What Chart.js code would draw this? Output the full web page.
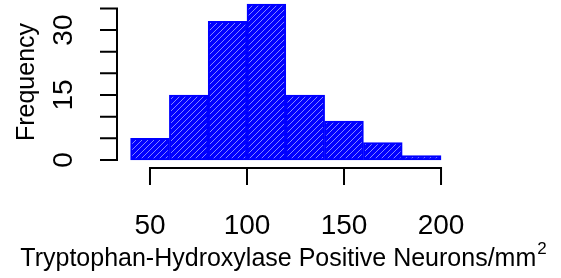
<!DOCTYPE html>
<html>
<head>
<meta charset="utf-8">
<script src="https://cdn.jsdelivr.net/npm/chart.js@4/dist/chart.umd.min.js"></script>
<style>
  body { margin: 0; background: #fff; }
  canvas { display: block; }
</style>
</head>
<body>
<canvas id="hist" width="561" height="278"></canvas>
<script>
// histogram bins (20 wide) and counts
const binStarts = [40, 60, 80, 100, 120, 140, 160, 180];
const binWidth = 20;
const counts = [5, 15, 32, 36, 15, 9, 4, 1];
const xTicks = [50, 100, 150, 200];
const yTickMarks = [0, 5, 10, 15, 20, 25, 30, 35];
const yTickLabels = [0, 15, 30];

const FONT = '"Liberation Sans", Arial, sans-serif';

function hatchPattern() {
  const c = document.createElement('canvas');
  c.width = 6;
  c.height = 6;
  const g = c.getContext('2d');
  g.fillStyle = '#0000ff';
  g.fillRect(0, 0, 6, 6);
  g.strokeStyle = 'rgba(175,175,255,0.75)';
  g.lineWidth = 1;
  g.beginPath();
  g.moveTo(-1, 7);
  g.lineTo(7, -1);
  g.stroke();
  return g.createPattern(c, 'repeat');
}

// R style axes: line from first to last tick, ticks outside
const rAxes = {
  id: 'rAxes',
  afterDraw(chart) {
    const ctx = chart.ctx;
    const x = chart.scales.x;
    const y = chart.scales.y;
    const axisY = chart.chartArea.bottom;
    const axisX = chart.chartArea.left;
    ctx.save();
    ctx.strokeStyle = '#000';
    ctx.lineWidth = 2;
    ctx.lineCap = 'butt';

    // x axis
    ctx.beginPath();
    ctx.moveTo(x.getPixelForValue(xTicks[0]), axisY);
    ctx.lineTo(x.getPixelForValue(xTicks[xTicks.length - 1]), axisY);
    xTicks.forEach(v => {
      const px = x.getPixelForValue(v);
      ctx.moveTo(px, axisY - 1);
      ctx.lineTo(px, axisY + 17);
    });
    ctx.stroke();

    ctx.fillStyle = '#000';
    ctx.font = '28px ' + FONT;
    ctx.textAlign = 'center';
    ctx.textBaseline = 'alphabetic';
    xTicks.forEach(v => ctx.fillText(String(v), x.getPixelForValue(v), 234));

    // y axis
    ctx.beginPath();
    ctx.moveTo(axisX, y.getPixelForValue(yTickMarks[0]));
    ctx.lineTo(axisX, y.getPixelForValue(yTickMarks[yTickMarks.length - 1]));
    yTickMarks.forEach(v => {
      const py = y.getPixelForValue(v);
      ctx.moveTo(axisX + 1, py);
      ctx.lineTo(axisX - 17, py);
    });
    ctx.stroke();

    yTickLabels.forEach(v => {
      ctx.save();
      ctx.translate(72, y.getPixelForValue(v));
      ctx.rotate(-Math.PI / 2);
      ctx.fillText(String(v), 0, 0);
      ctx.restore();
    });

    // axis titles
    ctx.font = '25px ' + FONT;
    ctx.save();
    ctx.translate(34, 82);
    ctx.rotate(-Math.PI / 2);
    ctx.fillText('Frequency', 0, 0);
    ctx.restore();

    const main = 'Tryptophan-Hydroxylase Positive Neurons/mm';
    const mainW = ctx.measureText(main).width;
    ctx.font = '17px ' + FONT;
    const supW = ctx.measureText('2').width;
    const startX = 283 - (mainW + supW) / 2;
    ctx.textAlign = 'left';
    ctx.fillText('2', startX + mainW + 1, 254);
    ctx.font = '25px ' + FONT;
    ctx.fillText(main, startX, 266);
    ctx.restore();
  }
};

new Chart(document.getElementById('hist'), {
  type: 'bar',
  data: {
    datasets: [{
      data: binStarts.map((s, i) => ({ x: s + binWidth / 2, y: counts[i] })),
      backgroundColor: hatchPattern(),
      borderColor: '#0000ff',
      borderWidth: 2,
      borderSkipped: false,
      barPercentage: 1,
      categoryPercentage: 1
    }]
  },
  options: {
    responsive: false,
    animation: false,
    layout: { padding: { left: 117, right: 106, top: 2, bottom: 110 } },
    plugins: { legend: { display: false }, tooltip: { enabled: false } },
    scales: {
      x: {
        type: 'linear', min: 33, max: 207.2, offset: false, display: false,
        // ticks on the bin edges so the bar width equals one bin
        afterBuildTicks: s => { s.ticks = binStarts.map(v => ({ value: v })); }
      },
      y: { min: -1.85, max: 36.48, display: false }
    }
  },
  plugins: [rAxes]
});
</script>
</body>
</html>
